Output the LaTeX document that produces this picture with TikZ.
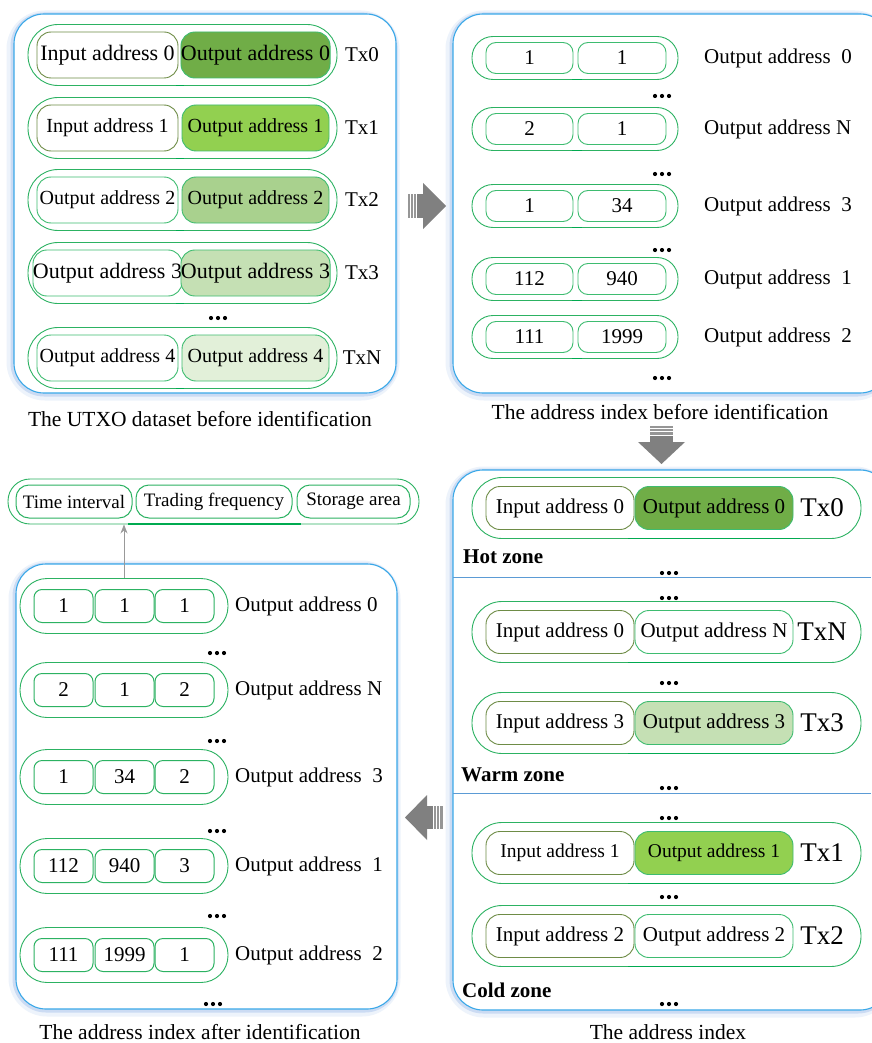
\documentclass[tikz,border=0pt]{standalone}
\usepackage{fontspec}
\setmainfont{Liberation Serif}
\usetikzlibrary{arrows.meta}
\definecolor{panelblue}{RGB}{58,168,232}
\definecolor{shadowblue}{RGB}{140,175,230}
\definecolor{pillgreen}{RGB}{44,178,98}
\definecolor{boxgreen}{RGB}{62,188,112}
\definecolor{olivegreen}{RGB}{110,140,70}
\definecolor{tickgreen}{RGB}{0,170,80}
\definecolor{gA}{RGB}{112,173,71}
\definecolor{gB}{RGB}{146,208,80}
\definecolor{gC}{RGB}{169,209,142}
\definecolor{gD}{RGB}{197,224,180}
\definecolor{gE}{RGB}{226,240,217}
\definecolor{arrowgray}{RGB}{128,128,128}
\definecolor{stripegray}{RGB}{150,150,150}
\definecolor{divblue}{RGB}{91,155,213}
\newcommand\fsz[1]{\fontsize{#1}{#1}\selectfont}
\tikzset{
  panel/.style={draw=panelblue, line width=1.1pt, fill=white, rounded corners=30pt},
  pill/.style={draw=pillgreen, line width=0.9pt, fill=white, inner sep=0pt},
  ibox/.style={draw=boxgreen, line width=0.9pt, rounded corners=14pt, inner sep=0pt, font=\fsz{21}},
  ibox2/.style={draw=boxgreen, line width=0.9pt, rounded corners=10pt, inner sep=0pt, font=\fsz{21}},
  ibox3/.style={draw=pillgreen, line width=1pt, rounded corners=8pt, inner sep=0pt, font=\fsz{21}},
  txt/.style={inner sep=0pt, font=\fsz{21}},
  captxt/.style={inner sep=0pt, font=\fsz{21.5}},
  zone/.style={inner sep=0pt, anchor=west, font=\fsz{21}\bfseries},
  tick/.style={draw=tickgreen, line width=1.6pt},
  longtick/.style={draw=tickgreen, line width=1.4pt},
  blockarrow/.style={fill=arrowgray},
  stripe/.style={fill=stripegray},
  conn/.style={draw=black!40, line width=1pt, -{Stealth[length=9pt,width=7pt]}}
}
\newcommand\panelbox[4]{%
  \draw[shadowblue, line width=11pt, opacity=.15, rounded corners=33pt] (#1-2,#2+2) rectangle (#3-2,#4+2);
  \draw[shadowblue, line width=5pt, opacity=.35, rounded corners=31pt] (#1-1,#2+1) rectangle (#3-1,#4+1);
  \draw[panel] (#1,#2) rectangle (#3,#4);
}
\newcommand\tridots[2]{%
  \foreach \dx in {-7,0,7} {\fill (#1+\dx,#2) circle (2.1);}
}
% panel 1 row: name, cy, left, right, fill, tx, left border
\newcommand\rowA[7]{%
  \node[pill, rounded corners=30pt, minimum width=309pt, minimum height=61pt] (#1) at (182.5,#2) {};
  \node[ibox, draw=#7, minimum width=141pt, minimum height=46pt] (#1a) at (107.5,#2) {#3};
  \node[ibox, fill=#5, minimum width=147pt, minimum height=46pt] (#1b) at (255.5,#2) {#4};
  \node[txt] (#1t) at (362,#2) {#6};
  \draw[tick] (176,#2+30.5) -- (184,#2+30.5);
}
% panel 2 row
\newcommand\rowB[5]{%
  \node[pill, rounded corners=21pt, minimum width=206pt, minimum height=43pt] (#1) at (575,#2) {};
  \node[ibox2, minimum width=87pt, minimum height=31pt] (#1a) at (529.5,#2) {#3};
  \node[ibox2, minimum width=88pt, minimum height=31pt] (#1b) at (622,#2) {#4};
  \node[txt, anchor=west] (#1t) at (704,#2) {#5};
  \draw[tick] (572,#2+21.5) -- (582,#2+21.5);
}
% panel 3 row
\newcommand\rowC[6]{%
  \node[pill, rounded corners=30pt, minimum width=389pt, minimum height=61pt] (#1) at (666.5,#2) {};
  \node[ibox, draw=olivegreen, minimum width=148pt, minimum height=43pt] (#1a) at (560,#2) {#3};
  \node[ibox, fill=#5, minimum width=158pt, minimum height=43pt] (#1b) at (714,#2) {#4};
  \node[txt, font=\fsz{27}] (#1t) at (822,#2) {#6};
  \draw[longtick] (628,#2+30.5) -- (800,#2+30.5);
}
% panel 4 row
\newcommand\rowD[6]{%
  \node[pill, rounded corners=27pt, minimum width=208pt, minimum height=55pt] (#1) at (124,#2) {};
  \node[ibox3, minimum width=59pt, minimum height=33pt] (#1a) at (63.5,#2) {#3};
  \node[ibox3, minimum width=59pt, minimum height=33pt] (#1b) at (124.5,#2) {#4};
  \node[ibox3, minimum width=59pt, minimum height=33pt] (#1c) at (184.5,#2) {#5};
  \node[txt, anchor=west] (#1t) at (235,#2) {#6};
}
\begin{document}
\begin{tikzpicture}[x=1pt,y=-1pt]
\useasboundingbox (0,0) rectangle (871,1043);
\fill[white] (0,0) rectangle (871,1043);

% ---------- Panel 1 ----------
\panelbox{14}{14}{396}{393}
\rowA{pa}{55}{\fsz{22}Input address 0}{\fsz{22}Output address 0}{gA}{Tx0}{olivegreen}
\rowA{pb}{128}{\fsz{20}Input address 1}{\fsz{20}Output address 1}{gB}{Tx1}{olivegreen}
\rowA{pc}{200}{\fsz{20}Output address 2}{\fsz{20}Output address 2}{gC}{Tx2}{boxgreen}
\rowA{pd}{273}{\fsz{22}Output address 3}{\fsz{22}Output address 3}{gD}{Tx3}{boxgreen}
\rowA{pe}{358}{\fsz{20}Output address 4}{\fsz{20}Output address 4}{gE}{TxN}{boxgreen}
\tridots{218}{318}
\node[captxt] (c1) at (200,419) {The UTXO dataset before identification};

% ---------- Panel 2 ----------
\panelbox{453}{14}{890}{393}
\rowB{qa}{58}{1}{1}{Output address~ 0}
\rowB{qb}{129}{2}{1}{Output address N}
\rowB{qc}{206}{1}{34}{Output address~ 3}
\rowB{qd}{279}{112}{940}{Output address~ 1}
\rowB{qe}{337}{111}{1999}{Output address~ 2}
\tridots{662}{96}
\tridots{662}{174}
\tridots{662}{250}
\tridots{662}{378}
\node[captxt] (c2) at (660,412) {The address index before identification};

% ---------- Panel 3 ----------
\panelbox{453}{470}{890}{1010}
\draw[divblue, line width=1pt] (453,577) -- (871,577);
\draw[divblue, line width=1pt] (453,793) -- (871,793);
\rowC{ra}{508}{Input address 0}{Output address 0}{gA}{Tx0}
\rowC{rb}{632}{Input address 0}{Output address N}{white}{TxN}
\rowC{rc}{723}{Input address 3}{Output address 3}{gD}{Tx3}
\rowC{rd}{853}{\fsz{19.5}Input address 1}{\fsz{19.5}Output address 1}{gB}{Tx1}
\rowC{re}{936}{Input address 2}{Output address 2}{white}{Tx2}
\node[zone] (hot) at (463,557) {Hot zone};
\node[zone] (warm) at (461,775) {Warm zone};
\node[zone] (cold) at (462,990) {Cold zone};
\tridots{669}{573}
\tridots{669}{598}
\tridots{669}{683}
\tridots{669}{788}
\tridots{669}{818}
\tridots{669}{897}
\tridots{669}{1004}
\node[captxt] (c3) at (668,1032) {The address index};

% ---------- Panel 4 ----------
\panelbox{16}{564}{397}{1009}
\rowD{sa}{606}{1}{1}{1}{Output address 0}
\rowD{sb}{690}{2}{1}{2}{Output address N}
\rowD{sc}{777}{1}{34}{2}{Output address~ 3}
\rowD{sd}{866}{112}{940}{3}{Output address~ 1}
\rowD{se}{955}{111}{1999}{1}{Output address~ 2}
\tridots{217}{653}
\tridots{217}{741}
\tridots{217}{831}
\tridots{217}{916}
\tridots{213}{1004}
\node[captxt] (c4) at (200,1032) {The address index after identification};

% attribute bar
\node[pill, rounded corners=22pt, minimum width=411pt, minimum height=45pt] (attr) at (213.5,501.5) {};
\node[ibox3, font=\fsz{19}, rounded corners=13pt, minimum width=116pt, minimum height=33pt] (ti) at (74,501.5) {Time interval};
\node[ibox3, font=\fsz{19}, rounded corners=13pt, minimum width=156pt, minimum height=33pt] (tf) at (214,501.5) {Trading frequency};
\node[ibox3, font=\fsz{19}, rounded corners=13pt, minimum width=113pt, minimum height=33pt] (sa2) at (353.5,501.5) {Storage area};
\draw[longtick] (128,524) -- (301,524);
\draw[conn] (sa.north) -- (sa.north |- attr.south);

% ---------- block arrows ----------
% right
\fill[blockarrow] (423,183) -- (446,206) -- (423,229) -- cycle;
\fill[blockarrow] (417,194) rectangle (424,218);
\fill[stripe] (408,194) rectangle (410,218);
\fill[stripe] (411,194) rectangle (413,218);
\fill[stripe] (414,194) rectangle (416,218);
% down
\fill[blockarrow] (638,442) -- (685,442) -- (661.5,464) -- cycle;
\fill[blockarrow] (650,436) rectangle (673,443);
\fill[stripe] (650,426) rectangle (673,428);
\fill[stripe] (650,429) rectangle (673,431);
\fill[stripe] (650,432) rectangle (673,434.5);
% left
\fill[blockarrow] (427,795) -- (405,817.5) -- (427,840) -- cycle;
\fill[blockarrow] (426,806) rectangle (433,829);
\fill[stripe] (434,806) rectangle (436,829);
\fill[stripe] (437,806) rectangle (439,829);
\fill[stripe] (440,806) rectangle (443,829);
\end{tikzpicture}
\end{document}
